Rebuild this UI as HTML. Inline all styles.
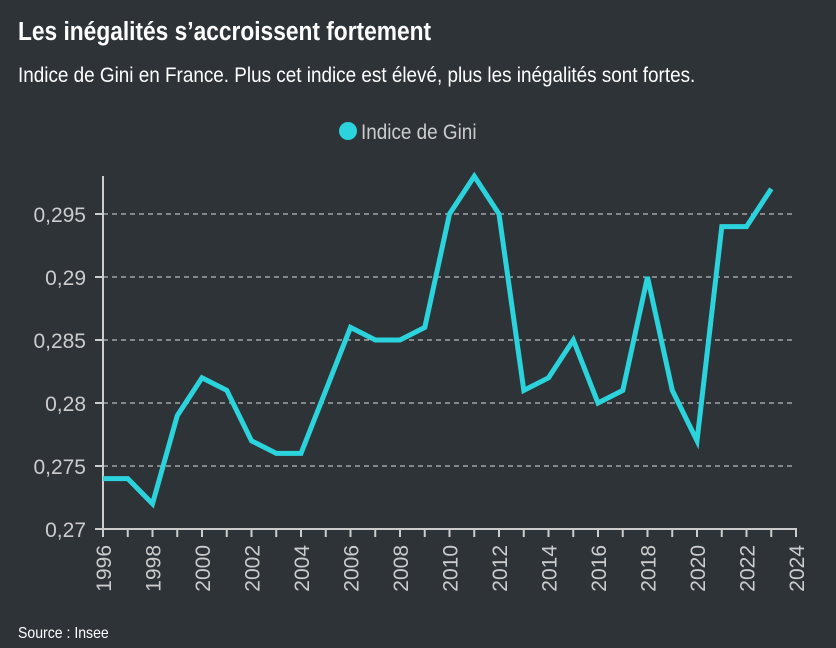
<!DOCTYPE html>
<html><head><meta charset="utf-8"><style>
body{margin:0;background:#2d3337;}
svg{display:block}
text{font-family:"Liberation Sans",sans-serif;}
</style></head><body>
<svg width="836" height="648" viewBox="0 0 836 648" xmlns="http://www.w3.org/2000/svg">
<rect width="836" height="648" fill="#2d3337"/>
<text x="18" y="40" fill="#fff" font-size="26" font-weight="bold" transform="translate(18 0) scale(0.875 1) translate(-18 0)">Les inégalités s’accroissent fortement</text>
<text x="18" y="82" fill="#fff" font-size="21" transform="translate(18 0) scale(0.9 1) translate(-18 0)">Indice de Gini en France. Plus cet indice est élevé, plus les inégalités sont fortes.</text>
<circle cx="348" cy="131" r="9" fill="#2bd4dc"/>
<text x="361" y="139" fill="#ccc" font-size="21" transform="translate(361 0) scale(0.9 1) translate(-361 0)">Indice de Gini</text>
<g stroke="#ddd" stroke-width="1" stroke-dasharray="5,4">
<line x1="103" x2="796" y1="214" y2="214"/><line x1="103" x2="796" y1="277" y2="277"/>
<line x1="103" x2="796" y1="340" y2="340"/><line x1="103" x2="796" y1="403" y2="403"/>
<line x1="103" x2="796" y1="466" y2="466"/>
</g>
<g stroke="#ccc" stroke-width="2" fill="none">
<line x1="103" y1="176" x2="103" y2="530"/>
<line x1="102" y1="529" x2="797" y2="529"/>
<path d="M95 214H103M95 277H103M95 340H103M95 403H103M95 466H103M95 529H103"/>
<path id="xt" d=""/>
</g>
<g fill="#ccc" font-size="21" text-anchor="end">
<text x="86" y="222">0,295</text><text x="86" y="285">0,29</text><text x="86" y="348">0,285</text>
<text x="86" y="411">0,28</text><text x="86" y="474">0,275</text><text x="86" y="537">0,27</text>
</g>
<g id="xa"></g>
<polyline id="ln" fill="none" stroke="#2bd4dc" stroke-width="5" stroke-linejoin="miter" points=""/>
<text x="18" y="638" fill="#fff" font-size="16" transform="translate(18 0) scale(0.88 1) translate(-18 0)">Source : Insee</text>
</svg>
<script>
var d=[.274,.274,.272,.279,.282,.281,.277,.276,.276,.281,.286,.285,.285,.286,.295,.298,.295,.281,.282,.285,.280,.281,.290,.281,.277,.294,.294,.297];
var X=function(i){return 103+i*24.75}, Y=function(v){return 529-(v-.27)/.005*63};
document.getElementById('ln').setAttribute('points',d.map(function(v,i){return X(i).toFixed(1)+','+Y(v).toFixed(1)}).join(' '));
var p='',g='';
for(var i=0;i<=28;i++){p+='M'+X(i)+' 529V537';
if(i%2==0){var x=X(i)+8;g+='<text x="'+x+'" y="545" transform="rotate(-90 '+x+' 545)" text-anchor="end" fill="#ccc" font-size="21">'+(1996+i)+'</text>';}}
document.getElementById('xt').setAttribute('d',p);
document.getElementById('xa').innerHTML=g;
</script>
</body></html>
